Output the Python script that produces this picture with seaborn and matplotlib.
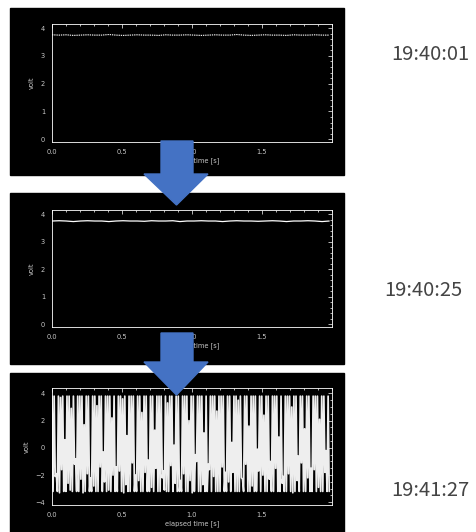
import numpy as np
import pandas as pd
import matplotlib
matplotlib.use("Agg")
import matplotlib.pyplot as plt
import seaborn as sns
from matplotlib.patches import Rectangle, Polygon
from matplotlib.ticker import MultipleLocator, FixedLocator

# time stamps shown to the right of each trace
stamps = ["19:40:01", "19:40:25", "19:41:27"]

# trace 1 (flat, ~3.75 V)
volt_1 = [3.76, 3.75, 3.76, 3.74, 3.75, 3.76, 3.75, 3.75, 3.77, 3.75,
          3.74, 3.75, 3.76, 3.75, 3.75, 3.74, 3.76, 3.75, 3.75, 3.76,
          3.75, 3.74, 3.75, 3.76, 3.75, 3.75, 3.77, 3.75, 3.74, 3.75,
          3.76, 3.75, 3.75, 3.74, 3.76, 3.75, 3.75, 3.76, 3.75, 3.75]

# trace 2 (flat with small dips)
volt_2 = [3.75, 3.76, 3.75, 3.73, 3.75, 3.76, 3.75, 3.75, 3.73, 3.75,
          3.76, 3.75, 3.75, 3.74, 3.76, 3.75, 3.75, 3.76, 3.73, 3.75,
          3.75, 3.76, 3.75, 3.75, 3.73, 3.75, 3.76, 3.75, 3.75, 3.74,
          3.75, 3.76, 3.75, 3.73, 3.75, 3.75, 3.76, 3.75, 3.73, 3.75]

# trace 3 (oscillating) - local maxima and minima
volt_hi = [3.8, 3.8, -1.9, 3.8, 3.7, 3.8, 0.6, 3.8, 3.8, 2.9, 3.8, -0.8, 3.8, 3.8, 3.8, 1.7, 3.8, 3.8, -2.2, 3.8,
           3.8, 3.1, 3.8, 3.8, -0.3, 3.8, 3.8, 3.8, 2.2, 3.8, -1.4, 3.8, 3.8, 3.6, 3.8, 0.9, 3.8, 3.8, 3.8, -2.0,
           3.8, 3.8, 2.6, 3.8, 3.8, -0.9, 3.8, 3.8, 1.3, 3.8, 3.8, 3.8, -1.7, 3.8, 3.3, 3.8, 3.8, 0.2, 3.8, 3.8,
           -2.4, 3.8, 3.8, 3.8, 2.0, 3.8, 3.8, -0.5, 3.8, 3.8, 3.8, 1.1, 3.8, -1.2, 3.8, 3.8, 3.8, 2.7, 3.8, 3.8,
           3.8, -1.8, 3.8, 3.8, 0.4, 3.8, 3.8, 3.5, 3.8, -2.3, 3.8, 3.8, 1.6, 3.8, 3.8, 3.8, -0.1, 3.8, 3.8, 2.4,
           3.8, 3.8, -1.0, 3.8, 3.8, 3.8, 0.8, 3.8, -2.1, 3.8, 3.8, 3.8, 3.0, 3.8, 3.8, -0.6, 3.8, 3.8, 1.4, 3.8,
           3.8, -1.5, 3.8, 3.8, 3.8, 2.1, 3.8, 3.8, -0.2, 3.8]
volt_lo = [-3.2, -2.1, -3.2, -3.3, -1.6, -3.2, -3.2, -2.6, -3.1, -3.2, -1.2, -3.2, -3.2, -2.3, -3.3, -3.2, -1.9, -3.2, -3.2, -2.8,
           -3.2, -3.2, -1.4, -3.2, -2.5, -3.2, -3.1, -3.2, -2.0, -3.2, -3.2, -1.7, -3.2, -3.3, -2.7, -3.2, -3.2, -1.1, -3.2, -3.2,
           -2.4, -3.2, -3.2, -1.8, -3.2, -3.2, -2.9, -3.2, -1.5, -3.2, -3.2, -2.2, -3.1, -3.2, -3.2, -1.3, -3.2, -2.6, -3.2, -3.2,
           -3.2, -1.9, -3.2, -3.2, -2.4, -3.3, -3.2, -1.0, -3.2, -3.2, -2.7, -3.2, -3.2, -1.6, -3.2, -2.1, -3.2, -3.2, -3.2, -1.4,
           -3.2, -3.2, -2.5, -3.2, -1.8, -3.2, -3.2, -3.2, -2.2, -3.2, -1.2, -3.2, -3.2, -2.8, -3.2, -3.2, -1.7, -3.2, -2.0, -3.2,
           -3.2, -2.3, -3.2, -3.2, -1.5, -3.2, -3.2, -2.6, -3.2, -3.2, -1.9, -3.2, -3.3, -3.2, -2.4, -3.2, -1.1, -3.2, -3.2, -2.2,
           -3.2, -3.2, -1.6, -3.2, -2.9, -3.2, -3.2, -1.8, -3.2, -3.2]

sns.set_style("dark")
W, H = 477, 532
fig = plt.figure(figsize=(W / 100, H / 100), dpi=100)
fig.patch.set_facecolor("white")


def fx(px):
    return px / W


def fy(py):
    return 1 - py / H


def panel(box, axbox, t, v, ylim, ymaj, ymin, lw, ls="-", color="white"):
    x0, y0, x1, y1 = box
    fig.add_artist(Rectangle((fx(x0), fy(y1)), fx(x1 - x0), (y1 - y0) / H,
                             transform=fig.transFigure, color="black", zorder=0))
    a0, b0, a1, b1 = axbox
    ax = fig.add_axes([fx(a0), fy(b1), fx(a1 - a0), (b1 - b0) / H])
    ax.set_facecolor("black")
    df = pd.DataFrame({"t": t, "v": v})
    sns.lineplot(data=df, x="t", y="v", ax=ax, color=color, linewidth=lw,
                 linestyle=ls, sort=False, estimator=None)
    ax.set_xlim(0, 2.0)
    ax.set_ylim(*ylim)
    ax.xaxis.set_major_locator(FixedLocator([0, 0.5, 1.0, 1.5]))
    ax.xaxis.set_minor_locator(MultipleLocator(0.1))
    ax.yaxis.set_major_locator(MultipleLocator(ymaj))
    ax.yaxis.set_minor_locator(MultipleLocator(ymin))
    ax.tick_params(which="both", direction="in", top=True, right=True,
                   colors="white", labelcolor="#c8c8c8", labelsize=4.8, width=0.5)
    ax.tick_params(which="major", length=3, pad=5)
    ax.tick_params(which="minor", length=1.5)
    for s in ax.spines.values():
        s.set_color("white")
        s.set_linewidth(0.6)
    ax.grid(False)
    ax.set_xlabel("elapsed time [s]", color="#c8c8c8", fontsize=4.8, labelpad=2)
    ax.set_ylabel("volt", color="#c8c8c8", fontsize=4.8, labelpad=4)
    return ax


t1 = np.linspace(0, 1.98, len(volt_1))
t2 = np.linspace(0, 1.98, len(volt_2))
v3 = np.column_stack([volt_hi, volt_lo]).ravel()
t3 = np.linspace(0, 1.98, len(v3))

panel((10, 8, 344, 175), (52, 24, 332, 142), t1, volt_1, (-0.1, 4.15), 1, 0.2, 0.8, (0, (1.2, 0.8)))
panel((10, 193, 344, 364), (52, 210, 332, 327), t2, volt_2, (-0.1, 4.15), 1, 0.2, 0.9)
panel((10, 373, 344, 532), (52, 388, 332, 505), t3, v3, (-4.2, 4.4), 2, 0.5, 1.25, color="#eeeeee")

# blue arrows between the panels
blue = "#4472C4"
for top, base, tip in [(141, 174, 205), (333, 362, 395)]:
    pts = [(161, top), (193, top), (193, base), (208, base), (176.5, tip), (144, base), (161, base)]
    fig.add_artist(Polygon([(fx(x), fy(y)) for x, y in pts], closed=True,
                           transform=fig.transFigure, color=blue, zorder=10))

for s, (xc, yc) in zip(stamps, [(430, 54), (423, 291), (430, 491)]):
    fig.text(fx(xc), fy(yc), s, ha="center", va="center", fontsize=14.5,
             color="#444444", family=["Noto Sans CJK JP", "DejaVu Sans"])

fig.savefig("out.png", dpi=100, facecolor="white")
